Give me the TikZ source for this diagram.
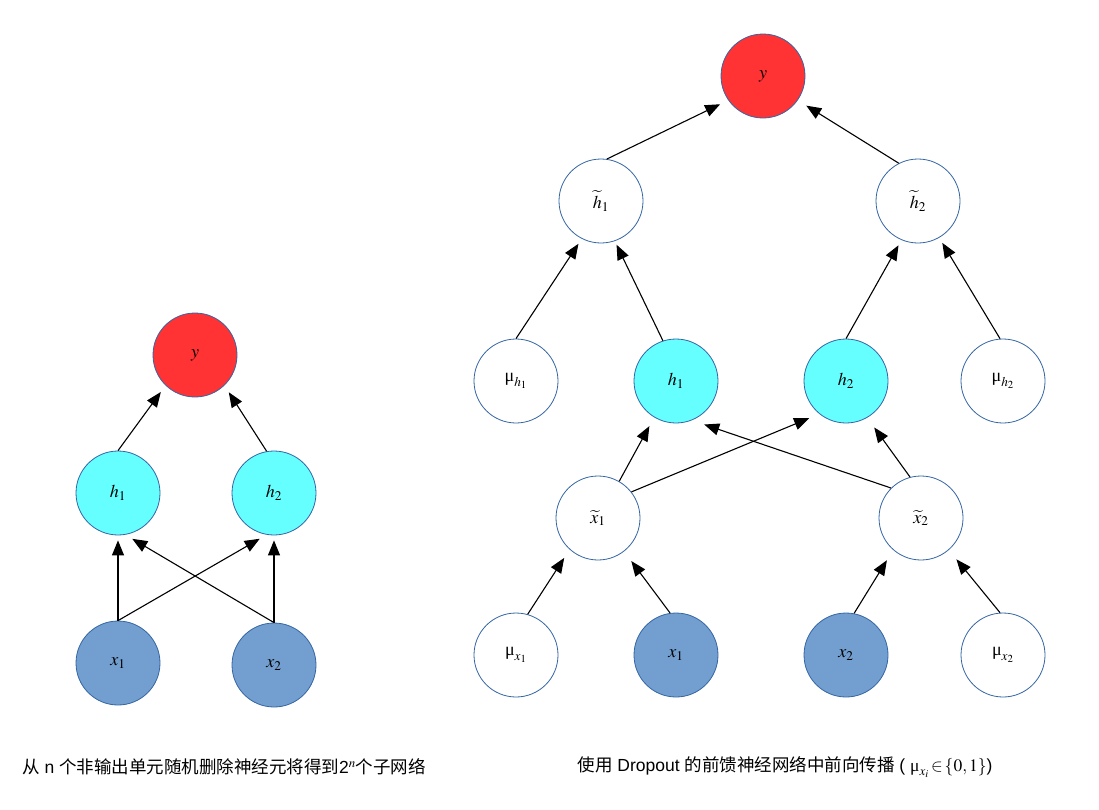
\documentclass[tikz,border=0pt]{standalone}
\usepackage{mathptmx}
\usepackage{fontspec}
\setmainfont{Liberation Sans}
\newfontfamily\cjk{Noto Sans CJK SC}
\newfontfamily\serifmu{Liberation Serif}
\newcommand{\mug}{\mbox{\serifmu μ}}
\usetikzlibrary{arrows.meta}
\definecolor{cBorder}{RGB}{52,101,164}
\definecolor{cOut}{RGB}{255,51,51}
\definecolor{cHid}{RGB}{102,255,255}
\definecolor{cIn}{RGB}{114,159,207}
\tikzset{
  unit/.style   ={circle,draw=cBorder,line width=0.8pt,minimum size=84pt,
                  inner sep=0pt,fill=white,font=\fontsize{18}{20}\selectfont},
  outunit/.style={unit,fill=cOut},
  hidunit/.style={unit,fill=cHid},
  inunit/.style ={unit,fill=cIn},
  conn/.style   ={-{Triangle[length=15pt,width=12pt]},line width=1.1pt},
  caption/.style={font=\fontsize{17.5}{20}\selectfont,inner sep=0pt},
}

\begin{document}
\begin{tikzpicture}[x=1pt,y=-1pt]
\useasboundingbox (0,0) rectangle (1099,809);

% left: plain network
\node[outunit] (ly)  at (195,355) {$y$};
\node[hidunit] (lh1) at (118,493) {$h_1$};
\node[hidunit] (lh2) at (274,493) {$h_2$};
\node[inunit]  (lx1) at (118,663) {$x_1$};
\node[inunit]  (lx2) at (274,665) {$x_2$};

\draw[conn,shorten >=5pt] (lx1.north) -- (lh1.south);
\draw[conn,shorten >=8pt] (lx1.north) -- (lh2.260);
\draw[conn,shorten >=8pt] (lx2.north) -- (lh1.280);
\draw[conn,shorten >=5pt] (lx2.north) -- (lh2.south);
\draw[conn,shorten >=8pt] (lh1.north) -- (ly.226);
\draw[conn,shorten >=8pt] (lh2.100) -- (ly.314);

\node[caption] (lcap) at (224,767)
 {{\cjk 从} n {\cjk 个非输出单元随机删除神经元将得到}2\textsuperscript{$n$}{\cjk 个子网络}};

% right: network with dropout
\node[outunit] (ry)   at (763,76)  {$y$};
\node[unit]    (rht1) at (601,201) {$\widetilde{h}_1$};
\node[unit]    (rht2) at (918,201) {$\widetilde{h}_2$};
\node[unit]    (rmh1) at (516,381) {$\mug_{h_1}$};
\node[hidunit] (rh1)  at (676,381) {$h_1$};
\node[hidunit] (rh2)  at (846,381) {$h_2$};
\node[unit]    (rmh2) at (1003,381) {$\mug_{h_2}$};
\node[unit]    (rxt1) at (598,518) {$\widetilde{x}_1$};
\node[unit]    (rxt2) at (921,518) {$\widetilde{x}_2$};
\node[unit]    (rmx1) at (516,655) {$\mug_{x_1}$};
\node[inunit]  (rx1)  at (676,655) {$x_1$};
\node[inunit]  (rx2)  at (846,655) {$x_2$};
\node[unit]    (rmx2) at (1003,655) {$\mug_{x_2}$};

\draw[conn,shorten >=9pt]  (rht1.82)   -- (ry.215);
\draw[conn,shorten >=10pt] (rht2.117)  -- (ry.325);
\draw[conn,shorten >=6pt]  (rmh1.north) -- (rht1.243);
\draw[conn,shorten >=4pt]  (rh1.108)   -- (rht1.289);
\draw[conn,shorten >=6pt]  (rh2.north) -- (rht2.247);
\draw[conn,shorten >=6pt]  (rmh2.94)   -- (rht2.300);
\draw[conn,shorten >=10pt] (rxt1.60)   -- (rh1.239);
\draw[conn,shorten >=11pt] (rxt1.38)   -- (rh2.231);
\draw[conn,shorten >=13pt] (rxt2.135)  -- (rh1.292);
\draw[conn,shorten >=12pt] (rxt2.105)  -- (rh2.300);
\draw[conn,shorten >=10pt] (rmx1.74)   -- (rxt1.228);
\draw[conn,shorten >=12pt] (rx1.98)    -- (rxt1.308);
\draw[conn,shorten >=12pt] (rx2.79)    -- (rxt2.229);
\draw[conn,shorten >=12pt] (rmx2.94)   -- (rxt2.311);

\node[caption] (rcap) at (785,767)
 {{\cjk 使用} Dropout {\cjk 的前馈神经网络中前向传播} ( $\mug_{x_i}\!\in\!\{0,1\}$)};

\end{tikzpicture}
\end{document}
